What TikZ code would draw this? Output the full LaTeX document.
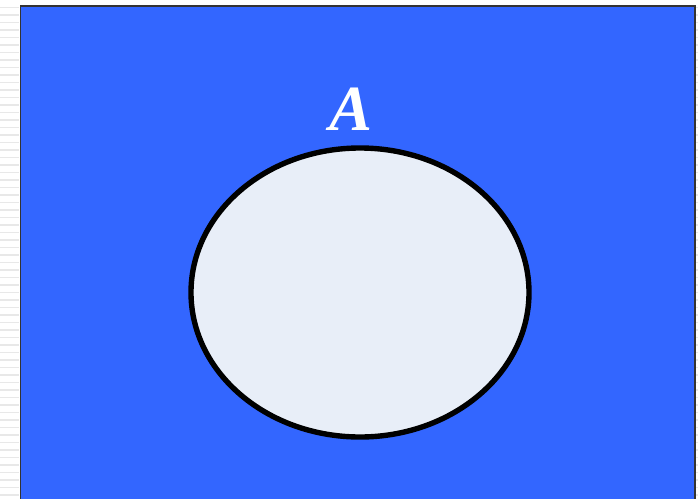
\documentclass[tikz,border=0pt]{standalone}
\usepackage{fontspec}
\setmainfont{Liberation Serif}
\usepackage{xcolor}
\usetikzlibrary{calc,positioning}
\definecolor{fondo}{HTML}{3366FF}
\definecolor{conjunto}{HTML}{E8EEF8}
\tikzset{
  universo/.style={fill=fondo,draw=black!80,line width=1.2pt},
  cerrado/.style={fill=conjunto,draw=black,line width=4.6pt},
  rayas/.style={gray!18,line width=1pt},
  etiqueta/.style={text=white,font=\fontsize{55}{55}\selectfont\bfseries\itshape}
}
\begin{document}
\begin{tikzpicture}[x=0.03cm,y=-0.03cm]
\useasboundingbox (0,0) rectangle (698,498);
\fill[white] (0,0) rectangle (698,498);
\foreach \y in {7.5,15,...,495}{
  \draw[rayas] (0,\y) -- (19,\y);
  \draw[rayas] (696,\y) -- (698,\y);}
\draw[universo] (20.5,6) rectangle (695,505);
\draw[cerrado] (360,292.5) ellipse (169 and 144.5);
\node[etiqueta] (A) at (351,109) {A};
\end{tikzpicture}
\end{document}
